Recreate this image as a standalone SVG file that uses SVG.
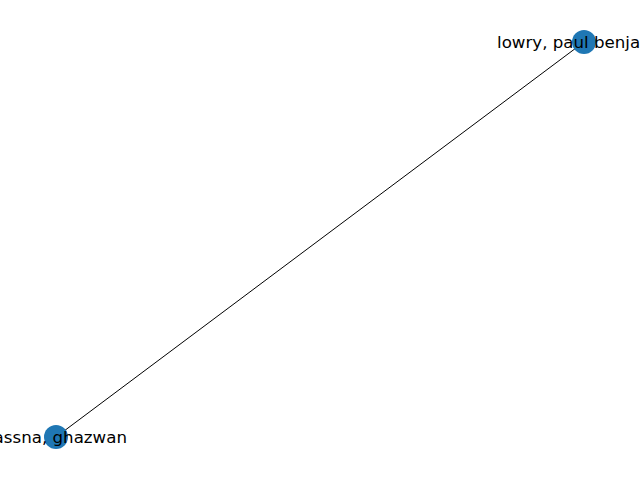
<svg xmlns="http://www.w3.org/2000/svg" width="640" height="480" viewBox="0 0 640 480">
<style>
.node{fill:#1f77b4}
.lbl{font-family:"DejaVu Sans",sans-serif;font-size:16.67px;fill:#000}
.edge{stroke:#000;stroke-width:1;fill:none}
</style>
<rect width="640" height="480" fill="#fff"/>
<g id="edges">
<line class="edge" x1="584" y1="42" x2="56" y2="437"/>
</g>
<g id="node-lowry">
<circle class="node" cx="584" cy="42" r="12"/>
<text class="lbl" x="497" y="48">lowry, paul benja</text>
</g>
<g id="node-hassna">
<circle class="node" cx="56" cy="437" r="12"/>
<text class="lbl" x="127" y="443" text-anchor="end">assna, ghazwan</text>
</g>
</svg>
